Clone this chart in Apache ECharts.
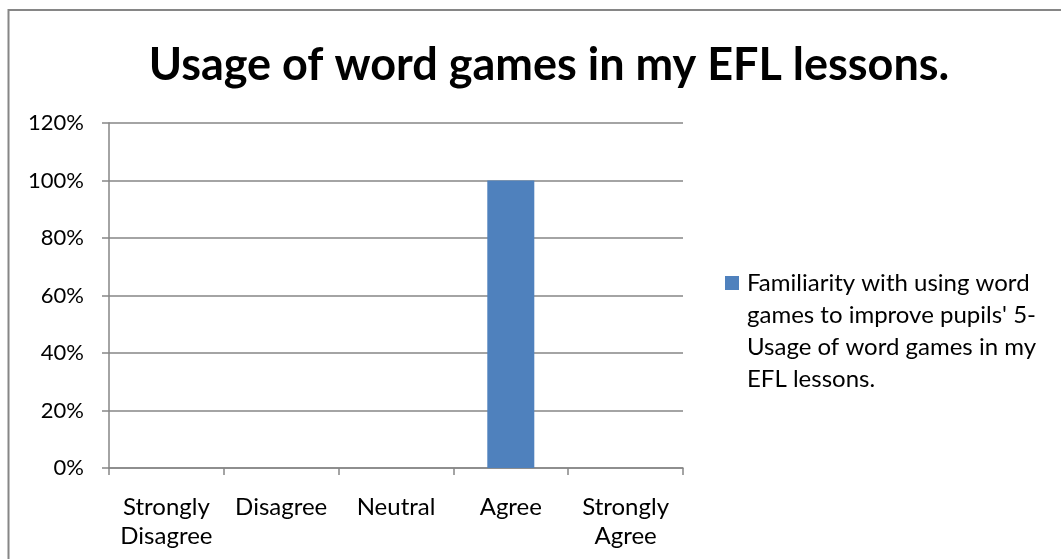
<!DOCTYPE html>
<html>
<head>
<meta charset="utf-8">
<script src="https://cdn.jsdelivr.net/npm/echarts@6/dist/echarts.min.js"></script>
<style>
  html, body { margin: 0; padding: 0; background: #ffffff; }
  #chart { width: 1061px; height: 559px; }
</style>
</head>
<body>
<div id="chart"></div>
<script>
// Survey responses (share of respondents)
const categories = ['Strongly\nDisagree', 'Disagree', 'Neutral', 'Agree', 'Strongly\nAgree'];
const values = [0, 0, 0, 1, 0];
const yTicks = [0, 0.2, 0.4, 0.6, 0.8, 1.0, 1.2];
const seriesName = "Familiarity with using word games to improve pupils' 5-Usage of word games in my EFL lessons.";
const legendLines = ['Familiarity with using word', "games to improve pupils' 5-", 'Usage of word games in my', 'EFL lessons.'];
const titleText = 'Usage of word games in my EFL lessons.';

const FONT = 'Lato, Carlito, Calibri, sans-serif';
const AXIS_GRAY = '#868686';
const LEGEND_LINE = 32;
const LEGEND_BLOCK = LEGEND_LINE * legendLines.length;

// legend marker: a square sitting beside the first text line, padded out to
// the full height of the wrapped legend text
const legendIcon = 'path://M0,0M0,9L14,9L14,23L0,23ZM17,' + LEGEND_BLOCK;

const chart = echarts.init(document.getElementById('chart'), null, { renderer: 'canvas' });

chart.setOption({
  animation: false,
  backgroundColor: '#ffffff',
  title: {
    text: titleText,
    left: 544,
    top: 38,
    textAlign: 'center',
    textStyle: { fontFamily: FONT, fontWeight: 'bold', fontSize: 45, color: '#000000' }
  },
  graphic: [{
    type: 'rect',
    shape: { x: 8.5, y: 10, width: 1200, height: 700 },
    style: { fill: 'none', stroke: AXIS_GRAY, lineWidth: 2 },
    silent: true,
    z: 100
  }],
  legend: {
    left: 725,
    top: 267,
    padding: 0,
    itemWidth: 17,
    itemHeight: LEGEND_BLOCK,
    symbolKeepAspect: false,
    itemGap: 0,
    icon: legendIcon,
    formatter: () => legendLines.join('\n'),
    textStyle: {
      fontFamily: FONT,
      fontSize: 24,
      color: '#000000',
      lineHeight: LEGEND_LINE
    },
    data: [seriesName]
  },
  grid: { left: 109, right: 378, top: 123, bottom: 91, containLabel: false },
  xAxis: {
    type: 'category',
    data: categories,
    boundaryGap: true,
    axisLine: { show: true, lineStyle: { color: AXIS_GRAY, width: 1.5 } },
    axisTick: { show: true, length: 7, alignWithLabel: false, lineStyle: { color: AXIS_GRAY, width: 1.5 } },
    axisLabel: {
      interval: 0,
      margin: 25,
      fontFamily: FONT,
      fontSize: 24,
      lineHeight: 29,
      color: '#000000',
      align: 'center'
    }
  },
  yAxis: {
    type: 'value',
    min: 0,
    max: 1.2,
    interval: 0.2,
    axisLine: { show: true, lineStyle: { color: AXIS_GRAY, width: 1.5 } },
    axisTick: { show: true, length: 7, lineStyle: { color: AXIS_GRAY, width: 1.5 } },
    splitLine: { show: true, lineStyle: { color: AXIS_GRAY, width: 1.5 } },
    axisLabel: {
      margin: 25,
      fontFamily: FONT,
      fontSize: 22,
      color: '#000000',
      formatter: v => {
        const t = yTicks.find(x => Math.abs(x - v) < 1e-9);
        return Math.round((t !== undefined ? t : v) * 100) + '%';
      }
    }
  },
  series: [{
    name: seriesName,
    type: 'bar',
    data: values,
    barWidth: 47,
    itemStyle: { color: '#4F81BD' }
  }]
});
</script>
</body>
</html>
